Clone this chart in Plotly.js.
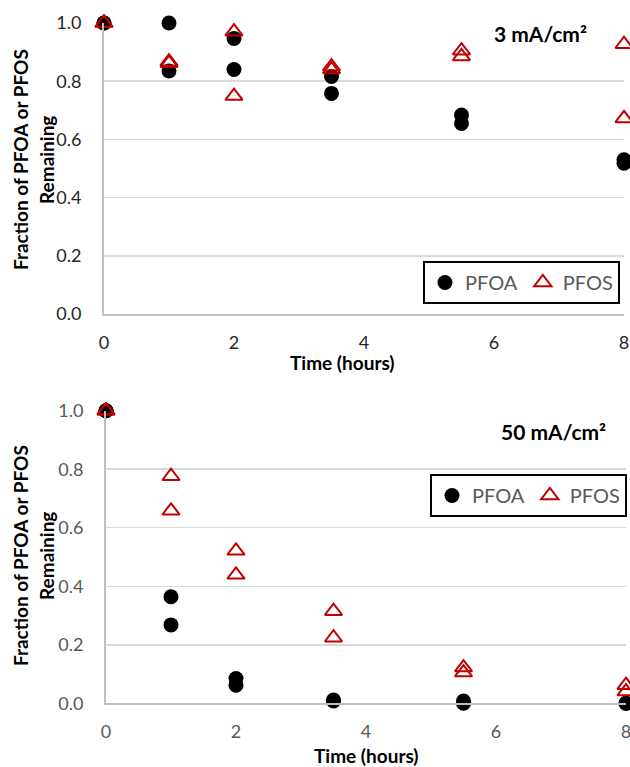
<!DOCTYPE html>
<html>
<head>
<meta charset="utf-8">
<script src="https://cdn.plot.ly/plotly-3.0.1.min.js"></script>
<style>html,body{margin:0;padding:0;background:#fff;}#chart{width:630px;height:767px;}</style>
</head>
<body>
<div id="chart"></div>
<script>
// Data
var timeHours = [0, 0, 1, 1, 2, 2, 3.5, 3.5, 5.5, 5.5, 8, 8];
var pfoa3 = [1.0, 1.0, 1.0, 0.835, 0.947, 0.84, 0.816, 0.758, 0.684, 0.655, 0.53, 0.518];
var pfos3 = [1.0, 1.0, 0.867, 0.862, 0.97, 0.749, 0.85, 0.84, 0.905, 0.885, 0.927, 0.672];
var pfoa50 = [1.0, 1.0, 0.364, 0.268, 0.085, 0.062, 0.011, 0.008, 0.008, 0.0, 0.0, 0.0];
var pfos50 = [1.0, 1.0, 0.776, 0.658, 0.521, 0.439, 0.315, 0.224, 0.122, 0.105, 0.062, 0.04];
var xTicks = [0, 2, 4, 6, 8];
var yTicks = [0, 0.2, 0.4, 0.6, 0.8, 1.0];
var yTickText = ["0.0", "0.2", "0.4", "0.6", "0.8", "1.0"];

var FONT = "Lato, 'Open Sans', sans-serif";
var RED = "#c00000";

function circ(x, y, xa, ya, lg) {
  return {x: x, y: y, xaxis: xa, yaxis: ya, type: "scatter", mode: "markers", name: "PFOA",
    legend: lg, cliponaxis: false,
    marker: {symbol: "circle", size: 15, color: "#000000"}};
}
function tri(x, y, xa, ya, lg) {
  return {x: x, y: y, xaxis: xa, yaxis: ya, type: "scatter", mode: "markers", name: "PFOS",
    legend: lg, cliponaxis: false,
    marker: {symbol: "triangle-up-open", size: 15, color: RED, line: {color: RED, width: 2}}};
}

var data = [
  circ(timeHours, pfoa3, "x", "y", "legend"),
  tri(timeHours, pfos3, "x", "y", "legend"),
  circ(timeHours, pfoa50, "x2", "y2", "legend2"),
  tri(timeHours, pfos50, "x2", "y2", "legend2")
];

function xAxis(dom, anchor, col) {
  return {domain: dom, anchor: anchor, range: [0, 8], tickvals: xTicks, showgrid: false,
    zeroline: false, showline: true, linecolor: "#bfbfbf", linewidth: 2,
    ticks: "outside", ticklen: 11, tickcolor: "rgba(0,0,0,0)", ticklabeloverflow: "allow",
    tickfont: {family: FONT, size: 18, color: col}, fixedrange: true};
}
function yAxis(dom, anchor, col) {
  return {domain: dom, anchor: anchor, range: [0, 1.0], tickvals: yTicks, ticktext: yTickText,
    showgrid: true, gridcolor: "#d9d9d9", gridwidth: 1.5, zeroline: false,
    showline: true, linecolor: "#bfbfbf", linewidth: 2,
    ticks: "outside", ticklen: 17, tickcolor: "rgba(0,0,0,0)",
    tickfont: {family: FONT, size: 18, color: col}, fixedrange: true};
}

var legStyle = function (x, y) {
  return {x: x, y: y, xanchor: "right", yanchor: "top", orientation: "h",
    bordercolor: "#000000", borderwidth: 2, bgcolor: "#ffffff", itemwidth: 30,
    font: {family: FONT, size: 20, color: "#595959"}, itemclick: false};
};

function ann(text, x, y, size, angle) {
  return {text: text, xref: "paper", yref: "paper", x: x / 630, y: 1 - y / 767,
    xanchor: "center", yanchor: "middle", showarrow: false, textangle: angle || 0,
    font: {family: FONT, size: size, color: "#000"}};
}

var layout = {
  width: 630, height: 767,
  margin: {l: 0, r: 0, t: 0, b: 0},
  paper_bgcolor: "#ffffff", plot_bgcolor: "#ffffff",
  showlegend: true,
  xaxis: xAxis([104 / 630, 624 / 630], "y", "#262626"),
  yaxis: yAxis([1 - 314 / 767, 1 - 23 / 767], "x", "#262626"),
  xaxis2: xAxis([106 / 630, 626 / 630], "y2", "#595959"),
  yaxis2: yAxis([1 - 703.3 / 767, 1 - 410.7 / 767], "x2", "#595959"),
  legend: legStyle(620 / 630, 1 - 261 / 767),
  legend2: legStyle(627 / 630, 1 - 474 / 767),
  annotations: [
    ann("<b>Time (hours)</b>", 343, 362, 19),
    ann("<b>Time (hours)</b>", 366, 755, 19),
    ann("<b>Fraction of PFOA or PFOS</b>", 20, 160, 19, -90),
    ann("<b>Remaining</b>", 46, 160, 19, -90),
    ann("<b>Fraction of PFOA or PFOS</b>", 20, 556, 19, -90),
    ann("<b>Remaining</b>", 46, 556, 19, -90),
    ann("<b>3 mA/cm²</b>", 540, 33, 21),
    ann("<b>50 mA/cm²</b>", 553, 431, 21)
  ]
};

Plotly.newPlot("chart", data, layout, {displayModeBar: false, staticPlot: true});
</script>
</body>
</html>
